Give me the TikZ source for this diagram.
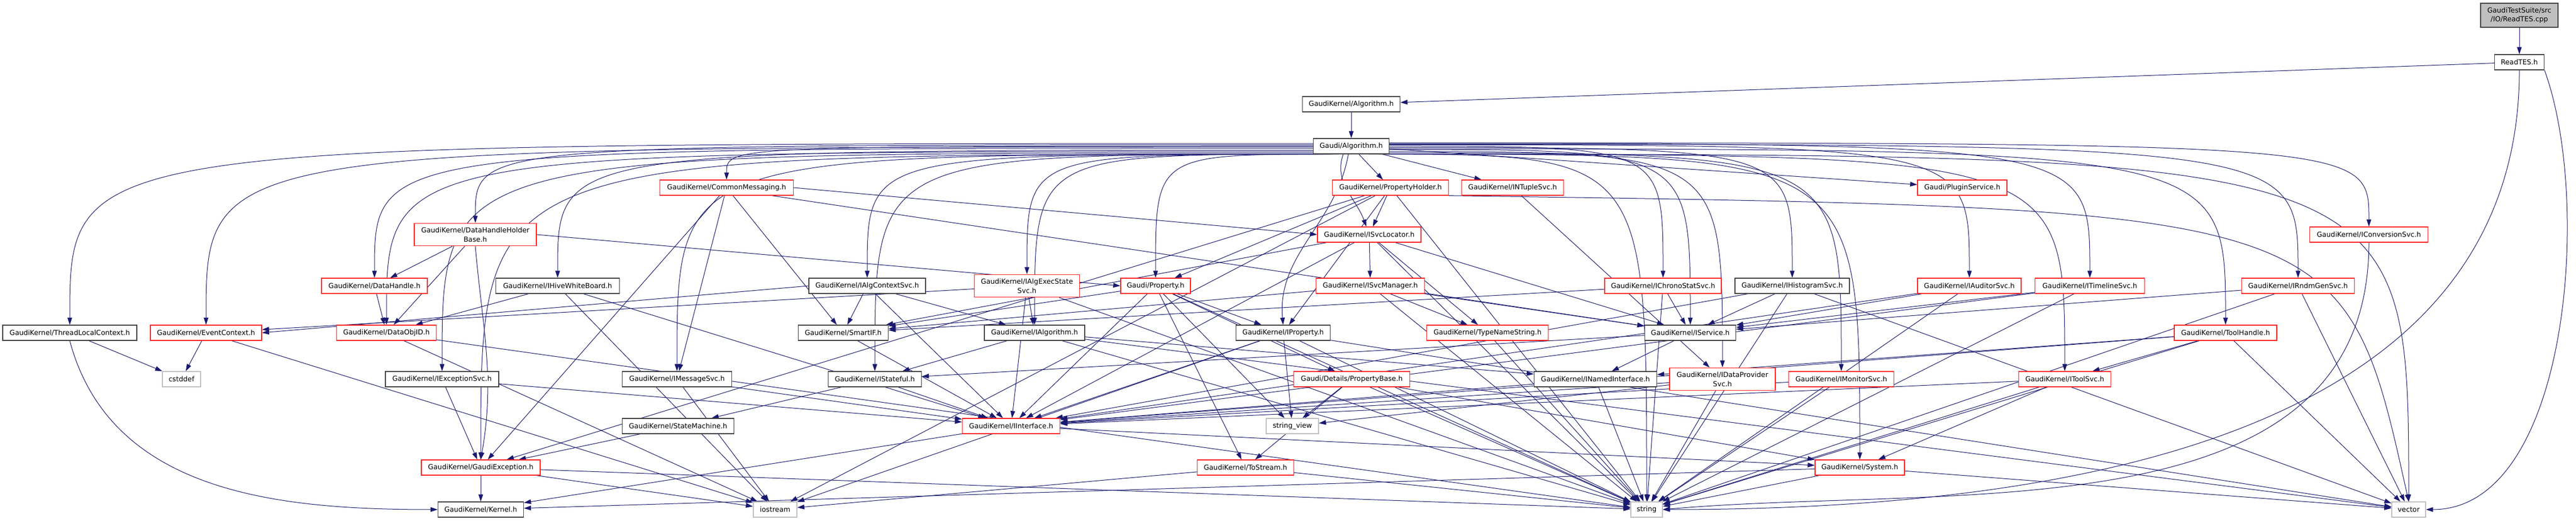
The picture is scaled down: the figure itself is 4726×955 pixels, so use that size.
\documentclass[tikz,border=0pt]{standalone}
\usepackage{fontspec}
\setmainfont{DejaVu Sans}
\usetikzlibrary{arrows.meta}
\definecolor{edgec}{HTML}{191970}
\definecolor{redb}{HTML}{FF2020}
\definecolor{grayb}{HTML}{BFBFBF}
\definecolor{blkb}{HTML}{404040}
\pgfdeclarelayer{bg}
\pgfsetlayers{bg,main}
\newcommand{\N}[6]{\node[#1, minimum width=#5*0.2pt] (#2) at (#3,-#4) {#6};}
\newcommand{\fan}[2]{\draw[e] (galg.#1) .. controls (galg.#1 -| #2.north) .. (#2.north);}
\newcommand{\E}[2]{\draw[e] (#1) -- (#2);}
\begin{document}
\begin{tikzpicture}[x=0.2pt,y=0.2pt,
  base/.style={rectangle, fill=white, font=\fontsize{2.54}{3.34}\selectfont, inner xsep=0.8pt, inner ysep=1.5pt, minimum height=5.6pt, align=center, line width=0.26pt},
  blk/.style={base, draw=blkb},
  redn/.style={base, draw=redb},
  ext/.style={base, draw=grayb},
  root/.style={base, draw=blkb, fill=grayb},
  e/.style={draw=edgec, line width=0.2pt, -{Triangle[length=2.6pt,width=1.7pt]}}]
\useasboundingbox (0,0) rectangle (4726,-955);
% nodes
\N{root}{cpp}{4622}{28}{142}{GaudiTestSuite/src\\/IO/ReadTES.cpp}
\N{blk}{rtes}{4622}{114}{91}{ReadTES.h}
\N{blk}{gkalg}{2479}{191}{179}{GaudiKernel/Algorithm.h}
\N{blk}{galg}{2479}{268}{139}{Gaudi/Algorithm.h}
\N{redn}{cmsg}{1333}{344}{245}{GaudiKernel/CommonMessaging.h}
\N{redn}{pholder}{2551}{344}{213}{GaudiKernel/PropertyHolder.h}
\N{redn}{ntuple}{2775}{344}{187}{GaudiKernel/INTupleSvc.h}
\N{redn}{plugin}{3600}{344}{164}{Gaudi/PluginService.h}
\N{redn}{dhhb}{872}{430}{224}{GaudiKernel/DataHandleHolder\\Base.h}
\N{redn}{svcloc}{2512}{430}{190}{GaudiKernel/ISvcLocator.h}
\N{redn}{convsvc}{4346}{430}{217}{GaudiKernel/IConversionSvc.h}
\N{redn}{dhandle}{687}{524}{194}{GaudiKernel/DataHandle.h}
\N{blk}{hive}{1023}{524}{227}{GaudiKernel/IHiveWhiteBoard.h}
\N{blk}{algctx}{1591}{524}{214}{GaudiKernel/IAlgContextSvc.h}
\N{redn}{algexec}{1884}{524}{193}{GaudiKernel/IAlgExecState\\Svc.h}
\N{redn}{prop}{2120}{524}{128}{Gaudi/Property.h}
\N{redn}{svcmgr}{2514}{524}{199}{GaudiKernel/ISvcManager.h}
\N{redn}{chrono}{3051}{524}{214}{GaudiKernel/IChronoStatSvc.h}
\N{blk}{histo}{3288}{524}{210}{GaudiKernel/IHistogramSvc.h}
\N{redn}{auditor}{3613}{524}{190}{GaudiKernel/IAuditorSvc.h}
\N{redn}{timeline}{3834}{524}{201}{GaudiKernel/ITimelineSvc.h}
\N{redn}{rndm}{4216}{524}{207}{GaudiKernel/IRndmGenSvc.h}
\N{blk}{tlc}{128}{610}{246}{GaudiKernel/ThreadLocalContext.h}
\N{redn}{evctx}{378}{610}{204}{GaudiKernel/EventContext.h}
\N{redn}{dobjid}{709}{610}{183}{GaudiKernel/DataObjID.h}
\N{blk}{smartif}{1547}{610}{165}{GaudiKernel/SmartIF.h}
\N{blk}{ialg}{1898}{610}{184}{GaudiKernel/IAlgorithm.h}
\N{blk}{iprop}{2354}{610}{173}{GaudiKernel/IProperty.h}
\N{redn}{tns}{2729}{610}{223}{GaudiKernel/TypeNameString.h}
\N{blk}{isvc}{3101}{610}{167}{GaudiKernel/IService.h}
\N{redn}{toolh}{4083}{610}{188}{GaudiKernel/ToolHandle.h}
\N{ext}{cstddef}{333}{695}{70}{cstddef}
\N{blk}{excsvc}{811}{695}{208}{GaudiKernel/IExceptionSvc.h}
\N{blk}{msgsvc}{1242}{695}{201}{GaudiKernel/IMessageSvc.h}
\N{blk}{stateful}{1605}{695}{171}{GaudiKernel/IStateful.h}
\N{redn}{pbase}{2480}{695}{213}{Gaudi/Details/PropertyBase.h}
\N{blk}{named}{2927}{695}{225}{GaudiKernel/INamedInterface.h}
\N{redn}{dpsvc}{3160}{695}{194}{GaudiKernel/IDataProvider\\Svc.h}
\N{redn}{monsvc}{3378}{695}{193}{GaudiKernel/IMonitorSvc.h}
\N{redn}{toolsvc}{3788}{695}{169}{GaudiKernel/IToolSvc.h}
\N{blk}{statem}{1244}{781}{205}{GaudiKernel/StateMachine.h}
\N{redn}{iiface}{1855}{781}{179}{GaudiKernel/IInterface.h}
\N{ext}{sview}{2371}{781}{96}{string\_view}
\N{redn}{gexc}{882}{857}{218}{GaudiKernel/GaudiException.h}
\N{redn}{tostream}{2285}{857}{177}{GaudiKernel/ToStream.h}
\N{redn}{system}{3412}{857}{164}{GaudiKernel/System.h}
\N{blk}{kernel}{882}{934}{157}{GaudiKernel/Kernel.h}
\N{ext}{iostream}{1422}{934}{80}{iostream}
\N{ext}{string}{3021}{934}{58}{string}
\N{ext}{vector}{4419}{934}{62}{vector}
% edges
\begin{pgfonlayer}{bg}
\E{cpp}{rtes}
\E{rtes}{gkalg}
\draw[e] (rtes.south) to[out=-90,in=0] (string.east);
\draw[e] (rtes.south east) to[out=-70,in=0,looseness=0.8] (vector.east);
\E{gkalg}{galg}
% Gaudi/Algorithm.h
\E{galg}{pholder}
\E{galg}{ntuple}
\E{galg}{plugin}
\draw[e] (galg.225) to[out=-110,in=110] (svcloc);
\draw[e] (galg.250) to[out=-100,in=95] (iprop.north);
\fan{180}{cmsg}
\fan{178}{dhhb}
\fan{183}{dhandle}
\fan{186}{hive}
\fan{176}{tlc}
\fan{181}{evctx}
\fan{188}{dobjid}
\fan{190}{excsvc}
\fan{192}{msgsvc}
\fan{194}{gexc}
\fan{196}{algctx}
\fan{200}{algexec}
\fan{205}{ialg}
\fan{202}{stateful}
\fan{212}{prop}
\fan{0}{chrono}
\fan{358}{histo}
\fan{355}{isvc}
\fan{352}{dpsvc}
\fan{350}{monsvc}
\fan{348}{system}
\fan{2}{auditor}
\fan{4}{timeline}
\fan{346}{toolsvc}
\fan{356}{toolh}
\fan{3}{rndm}
\fan{5}{convsvc}
\fan{344}{vector}
\fan{335}{string}
% CommonMessaging
\E{cmsg}{msgsvc}
\E{cmsg}{smartif}
\draw[e] (cmsg.east) -- (svcloc.west);
\E{cmsg.350}{isvc}
\E{cmsg}{gexc}
% PropertyHolder
\E{pholder}{svcloc}
\E{pholder}{prop}
\E{pholder}{iprop}
\E{pholder}{gexc}
\draw[e] (pholder.south east) .. controls (4300,-382) .. (vector.north);
\E{pholder}{string}
\E{pholder}{iostream}
% INTupleSvc
\E{ntuple}{dpsvc}
% DataHandleHolderBase
\E{dhhb}{dhandle}
\E{dhhb}{dobjid}
\E{dhhb.east}{prop.west}
\draw[e] (dhhb.south) to[out=-85,in=80] (gexc.north);
% ISvcLocator
\E{svcloc}{svcmgr}
\E{svcloc}{tns}
\E{svcloc}{isvc}
\E{svcloc}{smartif}
\E{svcloc}{iiface}
\E{svcloc}{string}
% IConversionSvc
\draw[e] (convsvc.south) to[out=-90,in=5] (string.east);
% DataHandle, HiveWhiteBoard
\E{dhandle}{dobjid}
\E{hive}{dobjid}
\E{hive}{iiface}
\E{hive}{iostream}
% IAlgContextSvc, IAlgExecStateSvc
\E{algctx}{smartif}
\E{algctx}{ialg}
\E{algctx.west}{evctx.east}
\E{algctx}{iiface}
\E{algexec}{ialg}
\E{algexec}{evctx}
\E{algexec}{iiface}
\E{algexec}{string}
% Gaudi/Property
\E{prop}{pbase}
\E{prop}{iprop}
\E{prop}{tostream}
\E{prop}{smartif}
\E{prop}{sview}
\E{prop}{string}
\E{prop}{iiface}
% ISvcManager
\E{svcmgr}{tns}
\E{svcmgr}{isvc}
\E{svcmgr}{smartif}
\E{svcmgr}{string}
% services row
\E{chrono}{isvc}
\E{chrono}{smartif}
\E{chrono}{string}
\E{histo}{isvc}
\E{histo}{iiface}
\E{histo}{string}
\E{histo}{vector}
\E{auditor}{isvc}
\E{auditor}{string}
\E{auditor}{iiface}
\E{timeline}{isvc}
\E{timeline}{iiface}
\E{timeline}{string}
\E{rndm}{isvc}
\E{rndm}{string}
\E{rndm}{vector}
% row 610
\E{tlc}{cstddef}
\draw[e] (tlc.south) to[out=-75,in=180] (kernel.west);
\E{evctx}{cstddef}
\E{evctx}{iostream}
\E{dobjid}{string}
\E{dobjid}{iostream}
\E{smartif}{iiface}
\E{ialg}{stateful}
\E{ialg}{named}
\E{ialg}{string}
\E{ialg}{vector}
\E{iprop}{iiface}
\E{iprop}{sview}
\E{iprop}{string}
\E{iprop}{vector}
\E{iprop}{iostream}
\E{tns}{string}
\E{isvc}{named}
\E{isvc}{stateful}
\E{toolh}{toolsvc}
\E{toolh}{named}
\E{toolh}{string}
\E{toolh}{vector}
\E{toolh}{iiface}
% row 695
\E{excsvc}{gexc}
\E{excsvc}{iiface}
\E{msgsvc}{iiface}
\E{msgsvc}{iostream}
\E{stateful}{iiface}
\E{stateful}{statem}
\E{pbase}{sview}
\E{pbase}{tostream}
\E{pbase}{string}
\E{pbase}{system}
\E{named}{iiface}
\E{named}{string}
\E{dpsvc}{iiface}
\E{dpsvc}{sview}
\E{dpsvc}{string}
\E{monsvc}{iiface}
\E{monsvc}{string}
\E{toolsvc}{iiface}
\E{toolsvc}{system}
\E{toolsvc}{string}
% lower rows
\E{statem}{gexc}
\E{iiface}{kernel}
\E{iiface}{system}
\E{gexc}{kernel}
\E{gexc}{string}
\E{gexc}{iostream}
\E{tostream}{string}
\E{tostream}{iostream}
\E{system}{kernel}
\E{system}{string}
\E{system}{vector}
\end{pgfonlayer}
\end{tikzpicture}
\end{document}
